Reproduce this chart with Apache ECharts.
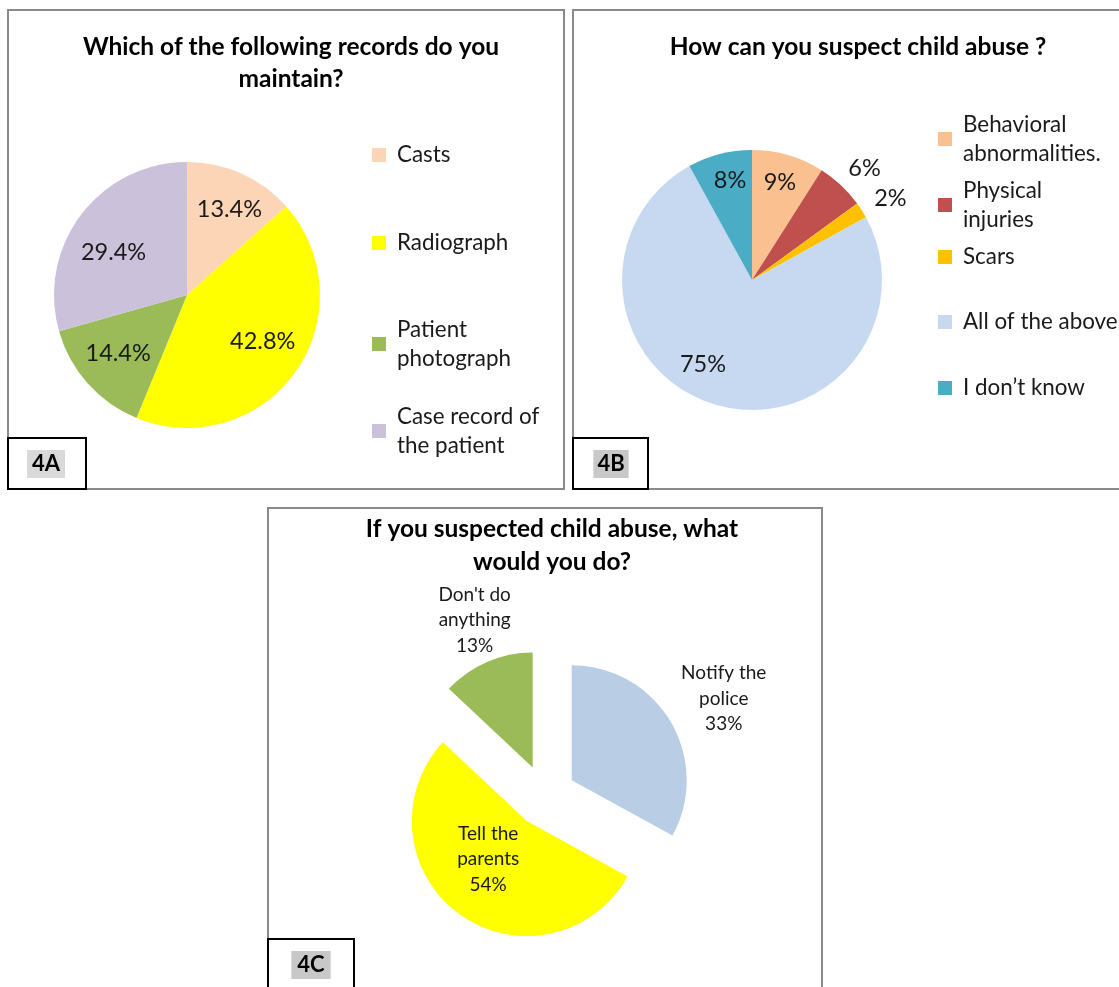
<!DOCTYPE html>
<html>
<head>
<meta charset="utf-8">
<script src="https://cdn.jsdelivr.net/npm/echarts@6/dist/echarts.min.js"></script>
<style>
  html, body { margin: 0; padding: 0; background: #ffffff; }
  #chart { width: 1119px; height: 987px; }
</style>
</head>
<body>
<div id="chart"></div>
<script>
// Survey answers, in percent
const recordNames = ['Casts', 'Radiograph', 'Patient\nphotograph', 'Case record of\nthe patient'];
const recordShares = [13.4, 42.8, 14.4, 29.4];

const signNames = ['Behavioral\nabnormalities.', 'Physical\ninjuries', 'Scars', 'All of the above', 'I don\u2019t know'];
const signShares = [9, 6, 2, 75, 8];

const actionNames = ['Notify the\npolice', 'Tell the\nparents', "Don't do\nanything"];
const actionShares = [33, 54, 13];

const panelTitles = [
  'Which of the following records do you\nmaintain?',
  'How can you suspect child abuse ?',
  'If you suspected child abuse, what\nwould you do?'
];
const panelTags = ['4A', '4B', '4C'];

// Styling
const recordColors = ['#FBD5B5', '#FFFF00', '#9BBB59', '#CCC1DA'];
const signColors = ['#FAC090', '#C0504D', '#FFC000', '#C6D9F1', '#4BACC6'];
const actionColors = ['#B9CDE5', '#FFFF00', '#9BBB59'];

const FONT = 'Lato';
const INK = '#1a1a1a';

// label nudges away from the default inside position (px)
const nudgeA = [[14, -22], [19, 6], [-17, 12], [-18, -1]];
const nudgeB = [[9, -32], [66, -62], [81, -45], [-30, 19], [-5, -34]];
const nudgeC = [[100, -51], [-3, -11], [-34, -92]];

// legend rows: vertical centre of each entry's first line
const legendRowsA = [154, 242, 329, 416];
const legendRowsB = [124, 190, 256, 321, 387];
const LINE = 29;

function legendEntries(names, rows, left) {
  return names.map((name, i) => {
    const twoLines = name.indexOf('\n') >= 0;
    return {
      orient: 'vertical',
      left: left,
      top: rows[i] - LINE / 2 + (twoLines ? 4 : 1),
      data: [name],
      icon: 'rect',
      itemWidth: 14,
      itemHeight: 14,
      itemGap: 0,
      padding: 0,
      selectedMode: false,
      textStyle: {
        fontFamily: FONT,
        fontSize: 22.4,
        color: INK,
        lineHeight: LINE,
        padding: twoLines ? [0, 0, -LINE, 6] : [0, 0, 0, 6]
      }
    };
  });
}

function nudger(offsets) {
  return function (p) {
    const o = offsets[p.dataIndex];
    return { dx: o[0], dy: o[1] };
  };
}

function pieData(names, values, colors, selected) {
  return names.map((n, i) => ({
    name: n,
    value: values[i],
    selected: !!selected,
    itemStyle: { color: colors[i] }
  }));
}

const chart = echarts.init(document.getElementById('chart'), null, { renderer: 'canvas' });

const titleStyle = { fontFamily: FONT, fontWeight: 'bold', fontSize: 24.5, color: '#000', lineHeight: 32 };

chart.setOption({
  animation: false,
  backgroundColor: '#ffffff',
  title: [
    { text: panelTitles[0], left: 286, top: 26, textAlign: 'center', textStyle: titleStyle },
    { text: panelTitles[1], left: 853, top: 26, textAlign: 'center', textStyle: titleStyle },
    { text: panelTitles[2], left: 547, top: 508, textAlign: 'center', textStyle: Object.assign({}, titleStyle, { lineHeight: 33 }) }
  ],
  legend: legendEntries(recordNames, legendRowsA, 372).concat(legendEntries(signNames, legendRowsB, 938)),
  series: [
    {
      type: 'pie',
      center: [187, 295],
      radius: 133,
      startAngle: 90,
      clockwise: true,
      silent: true,
      data: pieData(recordNames, recordShares, recordColors),
      label: {
        position: 'inside',
        fontFamily: FONT, fontSize: 23.5, color: INK,
        formatter: p => p.value.toFixed(1) + '%'
      },
      labelLine: { show: false },
      labelLayout: nudger(nudgeA)
    },
    {
      type: 'pie',
      center: [752, 280],
      radius: 130,
      startAngle: 90,
      clockwise: true,
      silent: true,
      data: pieData(signNames, signShares, signColors),
      label: {
        position: 'inside',
        fontFamily: FONT, fontSize: 23.5, color: INK,
        formatter: p => p.value + '%'
      },
      labelLine: { show: false },
      labelLayout: nudger(nudgeB)
    },
    {
      type: 'pie',
      center: [545, 796],
      radius: 115,
      startAngle: 90,
      clockwise: true,
      selectedMode: 'multiple',
      selectedOffset: 31,
      data: pieData(actionNames, actionShares, actionColors, true),
      select: { itemStyle: { borderWidth: 0 } },
      emphasis: { disabled: true },
      label: {
        position: 'inside',
        fontFamily: FONT, fontSize: 19, color: INK, lineHeight: 25.5,
        formatter: p => p.name + '\n' + p.value + '%'
      },
      labelLine: { show: false },
      labelLayout: nudger(nudgeC)
    }
  ],
  graphic: [
    // panel frames
    { type: 'rect', shape: { x: 8, y: 10, width: 556, height: 479 }, style: { fill: 'none', stroke: '#8a8a8a', lineWidth: 2 }, z: 0 },
    { type: 'rect', shape: { x: 573, y: 10, width: 560, height: 479 }, style: { fill: 'none', stroke: '#8a8a8a', lineWidth: 2 }, z: 0 },
    { type: 'rect', shape: { x: 268, y: 508, width: 554, height: 495 }, style: { fill: 'none', stroke: '#8a8a8a', lineWidth: 2 }, z: 0 },
    // panel tags
    { type: 'rect', shape: { x: 8, y: 438, width: 78, height: 51 }, style: { fill: '#fff', stroke: '#000', lineWidth: 2 }, z: 5 },
    { type: 'rect', shape: { x: 573, y: 438, width: 75, height: 51 }, style: { fill: '#fff', stroke: '#000', lineWidth: 2 }, z: 5 },
    { type: 'rect', shape: { x: 268, y: 939, width: 86, height: 60 }, style: { fill: '#fff', stroke: '#000', lineWidth: 2 }, z: 5 },
    { type: 'text', x: 46, y: 464, z: 6, style: { text: panelTags[0], align: 'center', verticalAlign: 'middle', font: 'bold 22px Lato', fill: '#000', backgroundColor: '#d9d9d9', padding: [3, 5] } },
    { type: 'text', x: 611, y: 464, z: 6, style: { text: panelTags[1], align: 'center', verticalAlign: 'middle', font: 'bold 22px Lato', fill: '#000', backgroundColor: '#c8c8c8', padding: [3, 4] } },
    { type: 'text', x: 311, y: 965, z: 6, style: { text: panelTags[2], align: 'center', verticalAlign: 'middle', font: 'bold 22px Lato', fill: '#000', backgroundColor: '#c8c8c8', padding: [3, 6] } }
  ]
});
</script>
</body>
</html>
